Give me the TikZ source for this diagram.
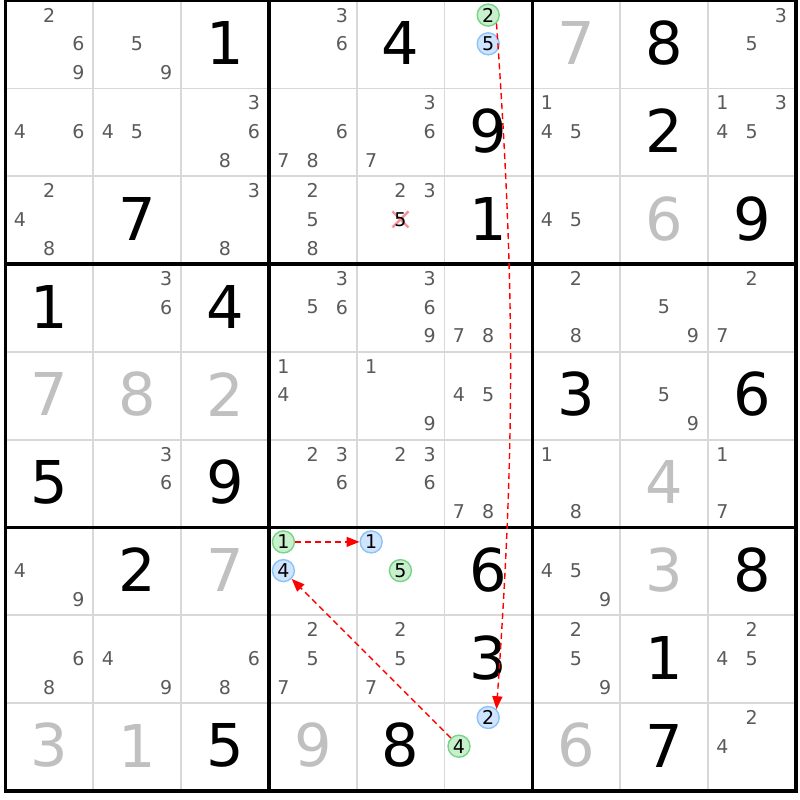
\documentclass[tikz,border=0pt]{standalone}
\usepackage{fontspec}
\setmainfont{DejaVu Sans}
\usetikzlibrary{arrows.meta,calc}
\definecolor{candc}{RGB}{90,90,90}
\definecolor{solvedc}{RGB}{192,192,192}
\definecolor{thinc}{RGB}{216,216,216}
\definecolor{gfill}{RGB}{200,240,205}
\definecolor{gline}{RGB}{120,210,135}
\definecolor{bfill}{RGB}{206,228,255}
\definecolor{bline}{RGB}{140,195,245}
\definecolor{xcol}{RGB}{240,120,130}
\tikzset{
  cand/.style={inner sep=0pt, text=candc, font=\fontsize{19}{19}\selectfont},
  given/.style={inner sep=0pt, text=black, font=\fontsize{59}{59}\selectfont},
  solved/.style={inner sep=0pt, text=solvedc, font=\fontsize{59}{59}\selectfont},
  gcirc/.style={circle, draw=gline, fill=gfill, line width=1.4pt, minimum size=22pt, inner sep=0pt, text=black, font=\fontsize{19}{19}\selectfont},
  bcirc/.style={circle, draw=bline, fill=bfill, line width=1.4pt, minimum size=22pt, inner sep=0pt, text=black, font=\fontsize{19}{19}\selectfont},
  link/.style={draw=red, line width=1.4pt, dash pattern=on 6pt off 4pt, -{Triangle[length=13pt,width=10pt]}},
  thinline/.style={draw=thinc, line width=1.8pt},
  thickline/.style={draw=black, line width=3.6pt},
}
\newcommand{\gx}{5.5}
\newcommand{\gy}{0.7}
\newcommand{\cs}{87.8}
\begin{document}
\begin{tikzpicture}[x=1pt,y=-1pt]
\useasboundingbox (0,0) rectangle (800,800);
\fill[white] (0,0) rectangle (800,800);
% thin grid lines
\foreach \i in {1,2,4,5,7,8}{
  \draw[thinline] ({\gx+\cs*\i},{\gy}) -- ({\gx+\cs*\i},{\gy+9*\cs});
  \draw[thinline] ({\gx},{\gy+\cs*\i}) -- ({\gx+9*\cs},{\gy+\cs*\i});
}
\foreach \i in {3,6}{
  \draw[thickline] ({\gx+\cs*\i},{\gy}) -- ({\gx+\cs*\i},{\gy+9*\cs});
  \draw[thickline] ({\gx},{\gy+\cs*\i}) -- ({\gx+9*\cs},{\gy+\cs*\i});
}
\draw[thickline] ({\gx},{\gy}) rectangle ({\gx+9*\cs},{\gy+9*\cs});
% givens
\foreach \r/\c/\d in {0/2/1,0/4/4,0/7/8,1/5/9,1/7/2,2/1/7,2/5/1,2/8/9,3/0/1,3/2/4,4/6/3,4/8/6,5/0/5,5/2/9,6/1/2,6/5/6,6/8/8,7/5/3,7/7/1,8/2/5,8/4/8,8/7/7}{
  \node[given] (v\r\c) at ({\gx+\cs*(\c+0.5)},{\gy+\cs*(\r+0.5)-1.5}) {\d};
}
% solved
\foreach \r/\c/\d in {0/6/7,2/7/6,4/0/7,4/1/8,4/2/2,5/7/4,6/2/7,6/7/3,8/0/3,8/1/1,8/3/9,8/6/6}{
  \node[solved] (v\r\c) at ({\gx+\cs*(\c+0.5)},{\gy+\cs*(\r+0.5)-1.5}) {\d};
}
% candidates
\foreach \r/\c/\ds in {0/0/{2,6,9},0/1/{5,9},0/3/{3,6},0/8/{3,5},
  1/0/{4,6},1/1/{4,5},1/2/{3,6,8},1/3/{6,7,8},1/4/{3,6,7},1/6/{1,4,5},1/8/{1,3,4,5},
  2/0/{2,4,8},2/2/{3,8},2/3/{2,5,8},2/4/{2,3},2/6/{4,5},
  3/1/{3,6},3/3/{3,5,6},3/4/{3,6,9},3/5/{7,8},3/6/{2,8},3/7/{5,9},3/8/{2,7},
  4/3/{1,4},4/4/{1,9},4/5/{4,5},4/7/{5,9},
  5/1/{3,6},5/3/{2,3,6},5/4/{2,3,6},5/5/{7,8},5/6/{1,8},5/8/{1,7},
  6/0/{4,9},6/6/{4,5,9},
  7/0/{6,8},7/1/{4,9},7/2/{6,8},7/3/{2,5,7},7/4/{2,5,7},7/6/{2,5,9},7/8/{2,4,5},
  8/8/{2,4}}{
  \foreach \d in \ds {
    \pgfmathsetmacro\px{\gx+\cs*\c+14.5+29.2*mod(\d-1,3)}
    \pgfmathsetmacro\py{\gy+\cs*\r+14.4+28.7*int((\d-1)/3)}
    \node[cand] (k\r\c\d) at (\px,\py) {\d};
  }
}
% eliminated candidate with cross
\coordinate (x5) at ({\gx+\cs*4+14.5+29.2},{\gy+\cs*2+14.4+28.7});
\draw[xcol, line width=2.4pt, opacity=0.8] ($(x5)+(-8,-8)$) -- ($(x5)+(8,8)$) ($(x5)+(8,-8)$) -- ($(x5)+(-8,8)$);
\node[inner sep=0pt, text=black, font=\fontsize{19}{19}\selectfont] (k245) at (x5) {5};
% highlighted candidates
\node[gcirc] (g052) at ({\gx+\cs*5+14.5+29.2},{\gy+14.4}) {2};
\node[bcirc] (b055) at ({\gx+\cs*5+14.5+29.2},{\gy+14.4+28.7}) {5};
\node[gcirc] (g631) at ({\gx+\cs*3+14.5},{\gy+\cs*6+14.4}) {1};
\node[bcirc] (b634) at ({\gx+\cs*3+14.5},{\gy+\cs*6+14.4+28.7}) {4};
\node[bcirc] (b641) at ({\gx+\cs*4+14.5},{\gy+\cs*6+14.4}) {1};
\node[gcirc] (g645) at ({\gx+\cs*4+14.5+29.2},{\gy+\cs*6+14.4+28.7}) {5};
\node[bcirc] (b852) at ({\gx+\cs*5+14.5+29.2},{\gy+\cs*8+14.4}) {2};
\node[gcirc] (g854) at ({\gx+\cs*5+14.5},{\gy+\cs*8+14.4+28.7}) {4};
% links
\draw[link] (g052.south east) to[bend left=4] (b852.north east);
\draw[link] (g631) -- (b641);
\draw[link] (g854) -- (b634);
\end{tikzpicture}
\end{document}
